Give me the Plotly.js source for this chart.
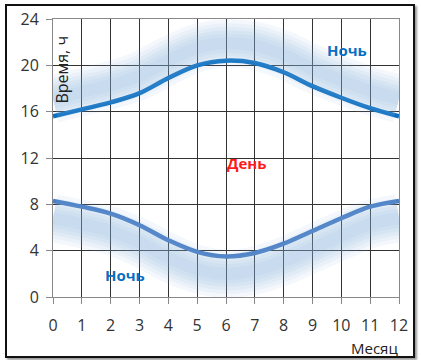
<!DOCTYPE html>
<html><head><meta charset="utf-8">
<script src="https://cdn.plot.ly/plotly-3.0.1.min.js"></script>
<style>
html,body{margin:0;padding:0;background:#fff;}
#wrap{position:relative;width:421px;height:360px;}
#chart{width:421px;height:360px;}
#frame{position:absolute;left:5px;top:4px;width:406px;height:350px;border:2px solid #111;box-shadow:2px 2px 2px #999;pointer-events:none;}
</style></head>
<body><div id="wrap"><div id="chart"></div><div id="frame"></div></div>
<script>
const months = [0,1,2,3,4,5,6,7,8,9,10,11,12];
const sunset = [15.6,16.2,16.8,17.6,18.9,20.0,20.4,20.2,19.4,18.2,17.2,16.3,15.6];
const sunrise = [8.3,7.8,7.2,6.2,4.9,3.9,3.5,3.8,4.6,5.7,6.8,7.8,8.3];
const xTicks = [0,1,2,3,4,5,6,7,8,9,10,11,12];
const yTicks = [0,4,8,12,16,20,24];

const traces = [];
const glowW = [48,40,33,26,19,12];
glowW.forEach(w => {
  traces.push({x: months, y: sunset, yaxis: 'y2', mode: 'lines', line: {shape: 'spline', width: w, color: 'rgba(130,180,225,0.09)'}, hoverinfo: 'skip', showlegend: false});
  traces.push({x: months, y: sunrise, yaxis: 'y3', mode: 'lines', line: {shape: 'spline', width: w, color: 'rgba(130,180,225,0.09)'}, hoverinfo: 'skip', showlegend: false});
});
traces.push({x: months, y: sunset, mode: 'lines', line: {shape: 'spline', width: 4.5, color: '#0a6fc2'}, showlegend: false});
traces.push({x: months, y: sunrise, mode: 'lines', line: {shape: 'spline', width: 4.5, color: '#4a7ec4'}, showlegend: false});

const fnt = {family: 'Open Sans, sans-serif', size: 16, color: '#333'};
const layout = {
  width: 421, height: 360,
  margin: {l: 53, r: 22, t: 19, b: 63},
  paper_bgcolor: '#fff', plot_bgcolor: '#fff',
  xaxis: {range: [0, 12], tickvals: xTicks, ticktext: xTicks.map(String), showgrid: true, gridcolor: '#333', gridwidth: 1,
    zeroline: false, showline: true, linecolor: '#888', mirror: true, ticks: 'outside', ticklen: 6, tickcolor: '#888', tickfont: fnt, ticklabelstandoff: 8, fixedrange: true},
  yaxis: {range: [0, 24], tickvals: yTicks, ticktext: yTicks.map(String), showgrid: true, gridcolor: '#333', gridwidth: 1,
    zeroline: false, showline: true, linecolor: '#888', mirror: true, ticks: 'outside', ticklen: 6, tickcolor: '#888', tickfont: fnt, ticklabelstandoff: 4, fixedrange: true},
  yaxis2: {range: [-1.5, 22.5], overlaying: 'y', visible: false, fixedrange: true},
  yaxis3: {range: [1.5, 25.5], overlaying: 'y', visible: false, fixedrange: true},
  annotations: [
    {x: 0.3, y: 19.6, xref: 'x', yref: 'y', text: 'Время, ч', textangle: -90, showarrow: false, xanchor: 'center', yanchor: 'middle', font: {family: 'Open Sans, sans-serif', size: 16, color: '#222'}},
    {x: 11.15, y: -0.183, xref: 'x', yref: 'paper', text: 'Месяц', showarrow: false, xanchor: 'center', yanchor: 'middle', font: {family: 'Open Sans, sans-serif', size: 15, color: '#222'}},
    {x: 10.2, y: 21.3, xref: 'x', yref: 'y', text: '<b>Ночь</b>', showarrow: false, font: {family: 'Open Sans, sans-serif', size: 15, color: '#0a6fc2'}},
    {x: 2.5, y: 1.9, xref: 'x', yref: 'y', text: '<b>Ночь</b>', showarrow: false, font: {family: 'Open Sans, sans-serif', size: 15, color: '#0a6fc2'}},
    {x: 6.7, y: 11.6, xref: 'x', yref: 'y', text: '<b>День</b>', showarrow: false, font: {family: 'Open Sans, sans-serif', size: 15, color: '#ff1a1a'}}
  ]
};
Plotly.newPlot('chart', traces, layout, {staticPlot: true, displayModeBar: false});
</script></body></html>
